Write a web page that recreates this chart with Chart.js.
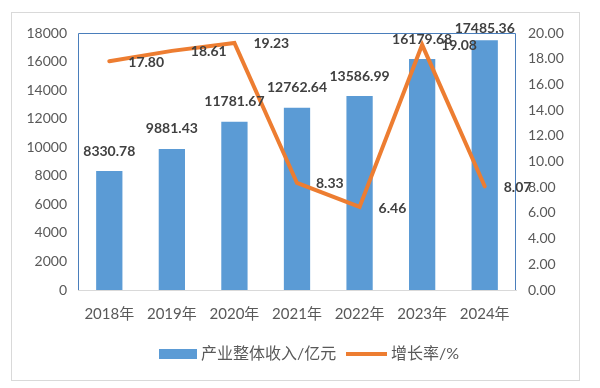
<!DOCTYPE html>
<html><head><meta charset="utf-8">
<script src="https://cdn.jsdelivr.net/npm/chart.js@4/dist/chart.umd.min.js"></script>
<style>html,body{margin:0;padding:0;background:#fff;}#wrap{width:600px;height:388px;}</style>
</head><body><div id="wrap"><canvas id="c" width="600" height="388"></canvas></div>
<script>
const categories = ['2018年','2019年','2020年','2021年','2022年','2023年','2024年'];
const revenue = [8330.78, 9881.43, 11781.67, 12762.64, 13586.99, 16179.68, 17485.36];
const growth = [17.80, 18.61, 19.23, 8.33, 6.46, 19.08, 8.07];
const revenueName = '产业整体收入/亿元';
const growthName = '增长率/%';

const BLUE = '#5B9BD5', ORANGE = '#ED7D31', TXT = '#404040', TICK = '#595959';
const FONT = "Lato, 'Noto Sans CJK SC', sans-serif";

const deco = {
  id: 'deco',
  beforeDraw(chart) {
    const ctx = chart.ctx;
    ctx.save();
    ctx.fillStyle = '#fff';
    ctx.fillRect(0, 0, chart.width, chart.height);
    ctx.strokeStyle = '#d9d9d9';
    ctx.lineWidth = 1;
    ctx.strokeRect(11.5, 12.5, 568, 368);
    ctx.restore();
  },
  afterDraw(chart) {
    const ctx = chart.ctx, a = chart.chartArea;
    ctx.save();
    ctx.strokeStyle = '#4a7ebb';
    ctx.lineWidth = 1;
    ctx.beginPath();
    ctx.moveTo(a.left + 0.5, a.bottom);
    ctx.lineTo(a.left + 0.5, a.top + 0.5);
    ctx.lineTo(a.right - 0.5, a.top + 0.5);
    ctx.lineTo(a.right - 0.5, a.bottom);
    ctx.stroke();
    ctx.font = "bold 14px " + FONT;
    ctx.fillStyle = TXT;
    const bm = chart.getDatasetMeta(0);
    ctx.textAlign = 'center';
    ctx.textBaseline = 'middle';
    bm.data.forEach((el, i) => {
      const y = Math.max(el.y - 20, 28);
      ctx.fillText(revenue[i].toFixed(2), el.x, y);
    });
    const lm = chart.getDatasetMeta(1);
    ctx.textAlign = 'left';
    lm.data.forEach((el, i) => {
      ctx.fillText(growth[i].toFixed(2), el.x + 19, el.y + 1);
    });
    const ly = 354;
    ctx.font = "16px " + FONT;
    ctx.fillStyle = BLUE;
    ctx.fillRect(159, ly - 5, 38, 10);
    ctx.fillStyle = TICK;
    ctx.textBaseline = 'middle';
    ctx.fillText(revenueName, 201, ly);
    ctx.strokeStyle = ORANGE;
    ctx.lineWidth = 4;
    ctx.beginPath();
    ctx.moveTo(346, ly); ctx.lineTo(387, ly);
    ctx.stroke();
    ctx.fillText(growthName, 391, ly);
    ctx.restore();
  }
};

new Chart(document.getElementById('c'), {
  data: {
    labels: categories,
    datasets: [
      { type: 'bar', label: revenueName, data: revenue, backgroundColor: BLUE, yAxisID: 'y',
        categoryPercentage: 1, barPercentage: 0.42, order: 2 },
      { type: 'line', label: growthName, data: growth, borderColor: ORANGE, borderWidth: 4,
        pointRadius: 0, tension: 0, yAxisID: 'y1', order: 1, borderJoinStyle: 'miter', borderCapStyle: 'round' }
    ]
  },
  options: {
    responsive: false,
    animation: false,
    events: [],
    layout: { padding: { top: 33, left: 0, right: 0, bottom: 0 } },
    plugins: { legend: { display: false }, tooltip: { enabled: false } },
    scales: {
      x: {
        grid: { display: false, drawTicks: false },
        border: { display: true, color: '#d9d9d9' },
        ticks: { color: TICK, font: { family: FONT, size: 15 }, padding: 15, maxRotation: 0 },
        afterFit(s) { s.height = 98; }
      },
      y: {
        position: 'left', min: 0, max: 18000,
        grid: { display: false, drawTicks: false },
        border: { display: false },
        ticks: { stepSize: 2000, color: TICK, font: { family: FONT, size: 14 }, padding: 11,
          callback: v => String(v) },
        afterFit(s) { s.width = 78; }
      },
      y1: {
        position: 'right', min: 0, max: 20,
        grid: { display: false, drawTicks: false },
        border: { display: false },
        ticks: { stepSize: 2, color: TICK, font: { family: FONT, size: 14 }, padding: 12,
          callback: v => Number(v).toFixed(2) },
        afterFit(s) { s.width = 84; }
      }
    }
  },
  plugins: [deco]
});
</script>
</body></html>
